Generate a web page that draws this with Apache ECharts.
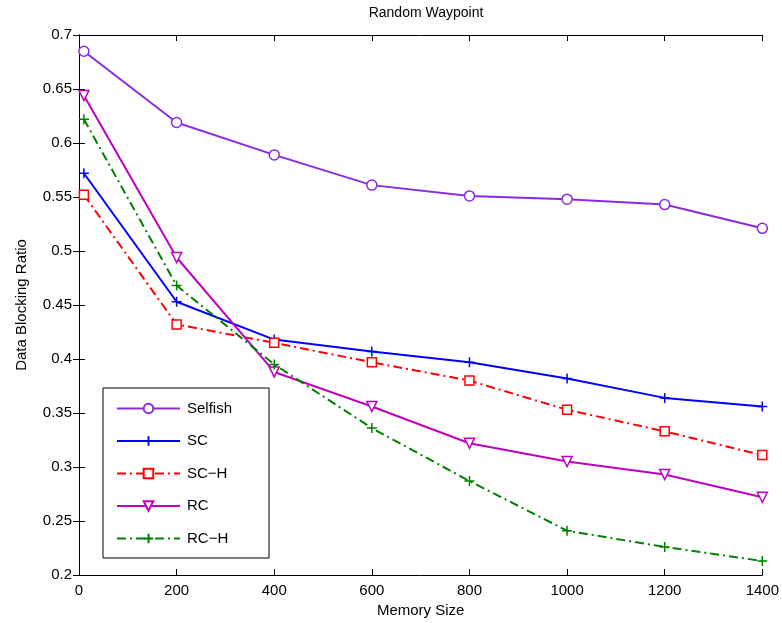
<!DOCTYPE html>
<html>
<head>
<meta charset="utf-8">
<script src="https://cdn.jsdelivr.net/npm/echarts@6/dist/echarts.min.js"></script>
<style>
html,body{margin:0;padding:0;background:#fff;}
#chart{width:782px;height:623px;}
</style>
</head>
<body>
<div id="chart"></div>
<script>
var memSize = [10, 200, 400, 600, 800, 1000, 1200, 1400];
var selfish = [0.685, 0.619, 0.589, 0.561, 0.551, 0.548, 0.543, 0.521];
var sc      = [0.572, 0.453, 0.418, 0.407, 0.397, 0.382, 0.364, 0.356];
var scH     = [0.552, 0.432, 0.415, 0.397, 0.380, 0.353, 0.333, 0.311];
var rc      = [0.644, 0.494, 0.388, 0.356, 0.322, 0.305, 0.293, 0.272];
var rcH     = [0.622, 0.468, 0.395, 0.336, 0.287, 0.241, 0.226, 0.213];

var plus = 'path://M5,0L5,10M0,5L10,5';
var dashDot = [9, 4, 2, 4];

function pairs(ys){
    return memSize.map(function(x, i){ return [x, ys[i]]; });
}
function mk(name, ys, color, symbol, type, extra){
    var s = {
        name: name,
        type: 'line',
        data: pairs(ys),
        symbol: symbol,
        symbolSize: 10,
        showAllSymbol: true,
        lineStyle: {color: color, width: 2, type: type},
        itemStyle: {color: '#fff', borderColor: color, borderWidth: 1.5},
        emphasis: {disabled: true},
        animation: false
    };
    for (var k in extra) s[k] = extra[k];
    return s;
}

var myChart = echarts.init(document.getElementById('chart'));
var option = {
    backgroundColor: '#fff',
    title: {
        text: 'Random Waypoint',
        left: 421,
        textAlign: 'center',
        top: 1,
        textStyle: {color: '#000', fontSize: 14, fontWeight: 'normal', fontFamily: 'Liberation Sans'}
    },
    legend: {
        orient: 'vertical',
        left: 103,
        top: 388,
        padding: [13, 37, 12, 13],
        itemGap: 17.5,
        itemWidth: 63,
        itemHeight: 12,
        borderColor: '#000',
        borderWidth: 1,
        backgroundColor: '#fff',
        textStyle: {color: '#000', fontSize: 15, fontFamily: 'Liberation Sans', padding: [0, 0, 0, 2]},
        data: ['Selfish', 'SC', 'SC\u2212H', 'RC', 'RC\u2212H']
    },
    grid: {left: 79, right: 19, top: 35, bottom: 48},
    xAxis: [{
        type: 'value',
        min: 0, max: 1400, interval: 200,
        name: 'Memory Size',
        nameLocation: 'middle',
        nameGap: 23,
        nameTextStyle: {color: '#000', fontSize: 15, fontFamily: 'Liberation Sans'},
        axisLine: {lineStyle: {color: '#000'}},
        axisTick: {inside: true, length: 6, lineStyle: {color: '#000'}},
        axisLabel: {color: '#000', fontSize: 15, fontFamily: 'Liberation Sans',
            formatter: function(v){ return String(v); }},
        splitLine: {show: false}
    }, {
        type: 'value',
        position: 'top',
        min: 0, max: 1400, interval: 200,
        axisLine: {show: true, lineStyle: {color: '#000'}},
        axisTick: {inside: true, length: 6, lineStyle: {color: '#000'}},
        axisLabel: {show: false},
        splitLine: {show: false}
    }],
    yAxis: [{
        type: 'value',
        min: 0.2, max: 0.7, interval: 0.05,
        name: 'Data Blocking Ratio',
        nameLocation: 'middle',
        nameGap: 50,
        nameTextStyle: {color: '#000', fontSize: 15, fontFamily: 'Liberation Sans'},
        axisLine: {show: true, lineStyle: {color: '#000'}},
        axisTick: {show: true, inside: true, length: 6, lineStyle: {color: '#000'}},
        axisLabel: {color: '#000', fontSize: 15, fontFamily: 'Liberation Sans', margin: 7,
            formatter: function(v){ return String(Math.round(v * 100) / 100); }},
        splitLine: {show: false}
    }, {
        type: 'value',
        position: 'right',
        min: 0.2, max: 0.7, interval: 0.05,
        axisLine: {show: true, lineStyle: {color: '#000'}},
        axisTick: {show: true, inside: true, length: 6, lineStyle: {color: '#000'}},
        axisLabel: {show: false},
        splitLine: {show: false}
    }],
    series: [
        mk('Selfish', selfish, '#8a2be2', 'circle', 'solid', {}),
        mk('SC', sc, '#0000ff', plus, 'solid', {}),
        mk('SC\u2212H', scH, '#ff0000', 'rect', dashDot, {symbolSize: 9}),
        mk('RC', rc, '#bf00bf', 'triangle', 'solid', {symbolRotate: 180}),
        mk('RC\u2212H', rcH, '#008000', plus, dashDot, {})
    ]
};
myChart.setOption(option);
</script>
</body>
</html>
